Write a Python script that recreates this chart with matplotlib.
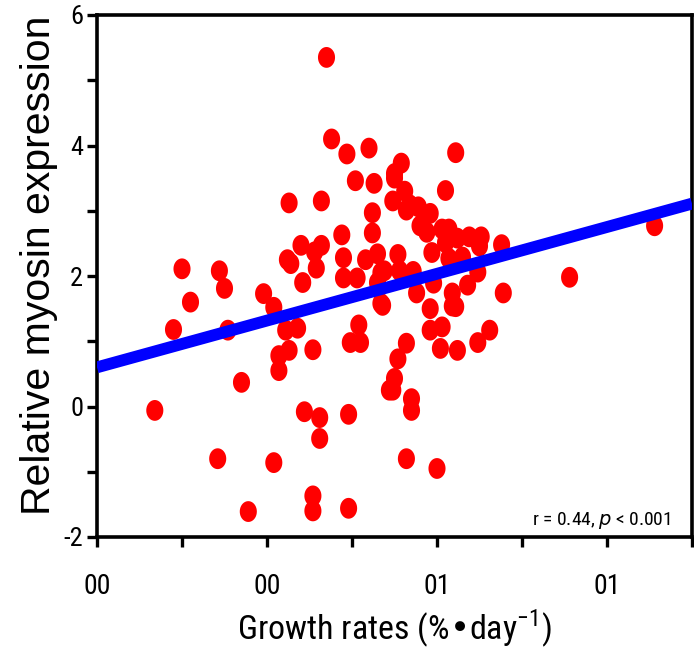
import numpy as np
import matplotlib
matplotlib.use("Agg")
import matplotlib.pyplot as plt
from matplotlib.path import Path
from matplotlib.ticker import MultipleLocator

# growth rate (tick units) vs relative myosin expression
growth = [
    1.35, 1.38, 1.47, 1.6, 1.52, 1.63, 1.75, 1.13, 1.32, 1.74,
    1.62, 1.62, 1.44, 1.2, 1.32, 1.28, 1.14, 1.12, 1.29, 1.45,
    1.58, 1.65, 1.45, 1.21, 1.67, 0.5, 0.72, 2.11, 1.79, 1.75,
    1.81, 2.05, 1.82, 1.89, 1.84, 1.96, 2.03, 2.07, 2.12, 2.19,
    2.25, 2.26, 2.38, 1.9, 1.94, 2.05, 1.97, 2.07, 1.77, 2.15,
    1.86, 1.78, 2.24, 1.69, 3.28, 2.78,
    1.53, 1.65, 0.75, 0.55, 0.98, 1.04, 1.67, 0.45, 0.77, 1.11,
    1.18, 1.13, 1.07, 1.07, 1.27, 1.49, 1.55, 1.54, 0.85, 1.72,
    0.34, 1.22, 1.31, 1.31, 1.48, 0.71, 1.04, 1.27, 1.27, 0.89,
    1.48, 1.88, 1.98, 2.09, 2.18, 2.39, 1.68, 1.96, 2.09, 2.11,
    1.96, 2.03, 2.31, 2.24, 1.82, 2.02, 2.12, 1.77, 1.75, 1.74,
    1.85, 1.85, 1.82, 2.0,
]
myosin = [
    5.35, 4.10, 3.87, 3.96, 3.46, 3.42, 3.57, 3.12, 3.15, 3.15,
    2.97, 2.66, 2.63, 2.47, 2.47, 2.37, 2.19, 2.25, 2.12, 2.28,
    2.25, 2.34, 1.97, 1.90, 2.05, 2.11, 2.08, 3.89, 3.73, 3.5,
    3.3, 3.31, 3.01, 3.06, 3.09, 2.96, 2.72, 2.72, 2.58, 2.60,
    2.46, 2.60, 2.48, 2.77, 2.67, 2.51, 2.36, 2.27, 2.33, 2.29,
    2.07, 2.08, 2.06, 2.08, 2.77, 1.98,
    1.97, 1.9, 1.81, 1.6, 1.73, 1.52, 1.58, 1.18, 1.17, 1.17,
    1.20, 0.86, 0.78, 0.55, 0.87, 0.98, 0.98, 1.25, 0.37, 0.25,
    -0.06, -0.08, -0.17, -0.49, -0.12, -0.80, -0.86, -1.37, -1.6, -1.61,
    -1.56, 1.74, 1.89, 1.74, 1.86, 1.74, 1.55, 1.5, 1.54, 1.53,
    1.17, 1.22, 1.17, 0.98, 0.97, 0.89, 0.86, 0.73, 0.43, 0.25,
    0.12, -0.06, -0.8, -0.95,
]

# least-squares line reported on the chart
fit_intercept = 0.60
fit_slope = 0.717

x_ticks = [0, 1, 2, 3]
x_tick_labels = ["00", "00", "01", "01"]
y_ticks = [-2, 0, 2, 4, 6]

narrow = ["Roboto Condensed", "Liberation Sans Narrow", "Noto Sans"]
plt.rcParams["font.family"] = ["Liberation Sans", "DejaVu Sans"]

fig = plt.figure(figsize=(6.94, 6.48), dpi=100)
ax = fig.add_axes([97 / 694, 1 - 537 / 648, 595 / 694, 522 / 648])

# slightly tall oval marker
t = np.linspace(0, 2 * np.pi, 40)
oval = Path(np.column_stack([0.82 * np.cos(t), np.sin(t)]))

ax.scatter(growth, myosin, marker=oval, s=225, color="#ff0000",
           edgecolors="none", zorder=2, clip_on=False)

xs = np.array([0, 3.5])
ax.plot(xs, fit_intercept + fit_slope * xs, color="#0000ff", lw=8.5,
        solid_capstyle="butt", zorder=3)

ax.set_xlim(0, 3.5)
ax.set_ylim(-2, 6)
ax.set_xticks(x_ticks)
ax.set_xticklabels(x_tick_labels, family=narrow, fontstretch="condensed",
                   fontsize=20)
ax.xaxis.set_minor_locator(MultipleLocator(0.5))
ax.set_yticks(y_ticks)
ax.set_yticklabels([str(v) for v in y_ticks], family=narrow,
                   fontstretch="condensed", fontsize=19)
ax.yaxis.set_minor_locator(MultipleLocator(1))

for side in ax.spines.values():
    side.set_linewidth(2.6)
ax.tick_params(which="both", direction="out", length=7, width=2.4,
               pad=3)
ax.tick_params(axis="x", pad=19)

ax.set_ylabel("Relative myosin expression", fontsize=29.5)
ax.yaxis.set_label_coords(-0.066, 0.52)
ax.set_xlabel("Growth rates (%\u2022day$^{\\mathregular{-1}}$)",
              family=narrow, fontstretch="condensed", fontsize=24.5)
ax.xaxis.set_label_coords(0.5, -0.134)

ax.text(0.965, 0.012, "r = 0.44, $\\mathit{p}$ < 0.001", transform=ax.transAxes,
        ha="right", va="bottom", family=narrow, fontstretch="condensed",
        fontsize=14)

fig.savefig("out.png", dpi=100)
